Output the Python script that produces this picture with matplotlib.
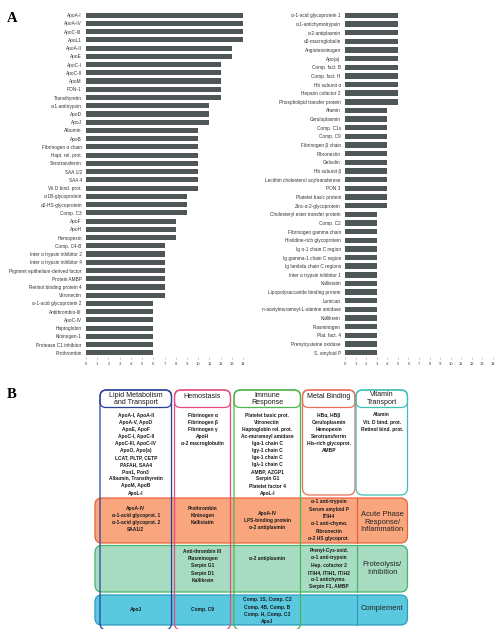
import numpy as np
import matplotlib.pyplot as plt
from matplotlib.patches import FancyBboxPatch

plt.rcParams['font.family'] = ['Liberation Sans', 'DejaVu Sans']

# ---- panel A data (number of studies per protein) ----
left_names = ["ApoA-I", "ApoA-IV", "ApoC-III", "ApoL1", "ApoA-II", "ApoE", "ApoC-I", "ApoC-II",
              "ApoM", "PON-1", "Transthyretin", "α-1-antitrypsin", "ApoD", "ApoJ", "Albumin", "ApoB",
              "Fibrinogen α chain", "Hapt. rel. prot.", "Serotransferrin", "SAA 1/2", "SAA 4",
              "Vit D bind. prot.", "α-1B-glycoprotein", "α2-HS-glycoprotein", "Comp. C3", "ApoF",
              "ApoH", "Hemopexin", "Comp. C4-B", "Inter α trypsin inhibitor 2",
              "Inter α trypsin inhibitor 4", "Pigment epithelium-derived factor", "Protein AMBP",
              "Retinol binding protein 4", "Vitronectin", "α-1-acid glycoprotein 2", "Antithrombin-III",
              "ApoC-IV", "Haptoglobin", "Kininogen-1", "Protease C1 inhibitor", "Prothrombin"]
left_counts = [14, 14, 14, 14, 13, 13, 12, 12, 12, 12, 12, 11, 11, 11, 10, 10, 10, 10, 10, 10, 10,
               10, 9, 9, 9, 8, 8, 8, 7, 7, 7, 7, 7, 7, 7, 6, 6, 6, 6, 6, 6, 6]

right_names = ["α-1-acid glycoprotein 1", "α-1-antichymotrypsin", "α-2-antiplasmin", "α2-macroglobulin",
               "Angiotensinogen", "Apo(a)", "Comp. fact. B", "Comp. fact. H", "Hb subunit α",
               "Heparin cofactor 2", "Phospholipid transfer protein", "Afamin", "Ceruloplasmin",
               "Comp. C1s", "Comp. C9", "Fibrinogen β chain", "Fibronectin", "Gelsolin", "Hb subunit β",
               "Lecithin cholesterol acyltransferase", "PON 3", "Platelet basic protein",
               "Zinc-α-2-glycoprotein", "Cholesteryl ester transfer protein", "Comp. C2",
               "Fibrinogen gamma chain", "Histidine-rich glycoprotein", "Ig α-1 chain C region",
               "Ig gamma-1 chain C region", "Ig lambda chain C regions", "Inter α trypsin inhibitor 1",
               "Kallistatin", "Lipopolysaccaride binding protein", "Lumican",
               "n-acetylmuramoyl-L-alanine amidase", "Kallikrein", "Plasminogen", "Plat. fact. 4",
               "Prenylcysteine oxidase", "S. amyloid P"]
right_counts = [5] * 11 + [4] * 12 + [3] * 17

# ---- panel B content ----
col_titles = ["Lipid Metabolism\nand Transport", "Hemostasis", "Immune\nResponse", "Metal Binding",
              "Vitamin\nTransport"]
row_titles = ["Acute Phase\nResponse/\nInflammation", "Proteolysis/\nInhibition", "Complement"]

top_lists = [
    ["ApoA-I, ApoA-II", "ApoA-V, ApoD", "ApoE, ApoF", "ApoC-I, ApoC-II", "ApoC-III, ApoC-IV",
     "ApoO, Apo(a)", "LCAT, PLTP, CETP", "PAFAH, SAA4", "Pon1, Pon3", "Albumin, Transthyretin",
     "ApoM, ApoB", "ApoL-I"],
    ["Fibrinogen α", "Fibrinogen β", "Fibrinogen γ", "ApoH", "α-2 macroglobulin"],
    ["Platelet basic prot.", "Vitronectin", "Haptoglobin rel. prot.", "Ac-muramoyl amidase",
     "Igα-1 chain C", "Igγ-1 chain C", "Igκ-1 chain C", "Igλ-1 chain C", "AMBP, AZGP1",
     "Serpin G1", "Platelet factor 4", "ApoL-I"],
    ["HBα, HBβ", "Ceruloplasmin", "Hemopexin", "Serotransferrin", "His-rich glycoprot.", "AMBP"],
    ["Afamin", "Vit. D bind. prot.", "Retinol bind. prot."],
]
acute_lists = [
    ["ApoA-IV", "α-1-acid glycoprot. 1", "α-1-acid glycoprot. 2", "SAA1/2"],
    ["Prothrombin", "Kininogen", "Kallistatin"],
    ["ApoA-IV", "LPS-binding protein", "α-2 antiplasmin"],
    ["α-1 anti-trypsin", "Serum amyloid P", "ITIH4", "α-1 anti-chymo.", "Fibronectin",
     "α-2 HS glycoprot."],
]
proteo_lists = [
    [],
    ["Anti-thrombin III", "Plasminogen", "Serpin G1", "Serpin D1", "Kallikrein"],
    ["α-2 antiplasmin"],
    ["Prenyl-Cys-oxid.", "α-1 anti-trypsin", "Hep. cofactor 2", "ITIH4, ITIH1, ITIH2",
     "α-1 antichymo.", "Serpin F1, AMBP"],
]
compl_lists = [
    ["ApoJ"],
    ["Comp. C9"],
    ["Comp. 1S, Comp. C2", "Comp. 4B, Comp. B", "Comp. H, Comp. C3", "ApoJ"],
    [],
]

W, H = 502, 629
fig = plt.figure(figsize=(W / 100, H / 100), dpi=100)


def px_axes(x0, y0, x1, y1):
    return fig.add_axes([x0 / W, 1 - y1 / H, (x1 - x0) / W, (y1 - y0) / H])


# ---- panel A: two horizontal bar charts ----
for names, counts, box in [(left_names, left_counts, (86, 11, 243, 357)),
                           (right_names, right_counts, (345, 11, 493, 357))]:
    ax = px_axes(*box)
    y = np.arange(len(names))
    ax.barh(y, counts, height=0.62, color='#4f5658')
    ax.set_ylim(len(names) - 0.5, -0.5)
    ax.set_xlim(0, 14)
    ax.set_xticks(range(15))
    ax.set_yticks(y)
    ax.set_yticklabels(names)
    ax.tick_params(axis='y', length=0, pad=3, labelsize=3.4, labelcolor='#333333')
    ax.tick_params(axis='x', length=1.2, width=0.4, pad=2.5, labelsize=3, labelcolor='#444444',
                   color='#999999')
    for s in ax.spines.values():
        s.set_visible(False)
    ax.set_facecolor('none')

# ---- panel B: overview diagram in pixel coordinates ----
axb = fig.add_axes([0, 0, 1, 1])
axb.set_xlim(0, W)
axb.set_ylim(H, 0)
axb.axis('off')

fig.text(12 / W, 1 - 19 / H, "A", family='Liberation Serif', weight='bold', fontsize=10.5,
         ha='center', va='center')
fig.text(12 / W, 1 - 395 / H, "B", family='Liberation Serif', weight='bold', fontsize=10.5,
         ha='center', va='center')

# columns: left, right, colour, bottom
col_x = [(100, 171.5), (174.5, 230.5), (234, 300.5), (302.5, 355), (356, 407.5)]
col_colors = ['#2b3f98', '#e84a80', '#4db748', '#e8705a', '#3fc0b2']
col_bottom = [630, 630, 630, 495, 495]

# rows: top, bottom, fill, edge
row_y = [(498, 543), (545.5, 592), (595, 625)]
row_fill = ['#f9a67f', '#a8dcc2', '#5ac8df']
row_edge = ['#e8613f', '#45b46c', '#2a9cbc']

for (t, b), fc, ec in zip(row_y, row_fill, row_edge):
    axb.add_patch(FancyBboxPatch((95, t), 312.5, b - t, boxstyle="round,pad=0,rounding_size=7",
                                 fc=fc, ec=ec, lw=0.9, zorder=1))
    axb.plot([357.5, 357.5], [t, b], color=ec, lw=0.9, zorder=1.5)

for (x0, x1), c, bot in zip(col_x, col_colors, col_bottom):
    axb.add_patch(FancyBboxPatch((x0, 390), x1 - x0, bot - 390,
                                 boxstyle="round,pad=0,rounding_size=7",
                                 fc='none', ec=c, lw=0.9, zorder=3))
    axb.add_patch(FancyBboxPatch((x0, 390), x1 - x0, 17.5,
                                 boxstyle="round,pad=0,rounding_size=6",
                                 fc='none', ec=c, lw=0.9, zorder=3))

title_y = [399, 396, 399, 396, 398.5]
for (x0, x1), title, ty in zip(col_x, col_titles, title_y):
    axb.text((x0 + x1) / 2, ty, title, ha='center', va='center', fontsize=5.1,
             linespacing=1.05, color='#1a1a1a', zorder=4)

row_label_y = [522, 568.5, 608.5]
for ty, title in zip(row_label_y, row_titles):
    axb.text(382, ty, title, ha='center', va='center', fontsize=5.4, linespacing=1.15,
             color='#222222', zorder=4)


def draw_list(cx, y0, items, step=7.1):
    for i, s in enumerate(items):
        axb.text(cx, y0 + i * step, s, ha='center', va='center', fontsize=3.5, weight='bold',
                 color='#1a1a1a', zorder=4)


centers = [(x0 + x1) / 2 for x0, x1 in col_x]
for cx, items in zip(centers, top_lists):
    draw_list(cx, 415, items)

acute_y0 = [508.5, 508.7, 514, 502]
for cx, y0, items in zip(centers, acute_y0, acute_lists):
    draw_list(cx, y0, items, step=7.3 if len(items) > 4 else 6.9)

proteo_y0 = [560, 551.7, 558.3, 550.7]
for cx, y0, items in zip(centers, proteo_y0, proteo_lists):
    draw_list(cx, y0, items, step=7.15)

compl_y0 = [609, 609, 600, 609]
for cx, y0, items in zip(centers, compl_y0, compl_lists):
    draw_list(cx, y0, items, step=7.2)

fig.savefig("out.png", dpi=100)
